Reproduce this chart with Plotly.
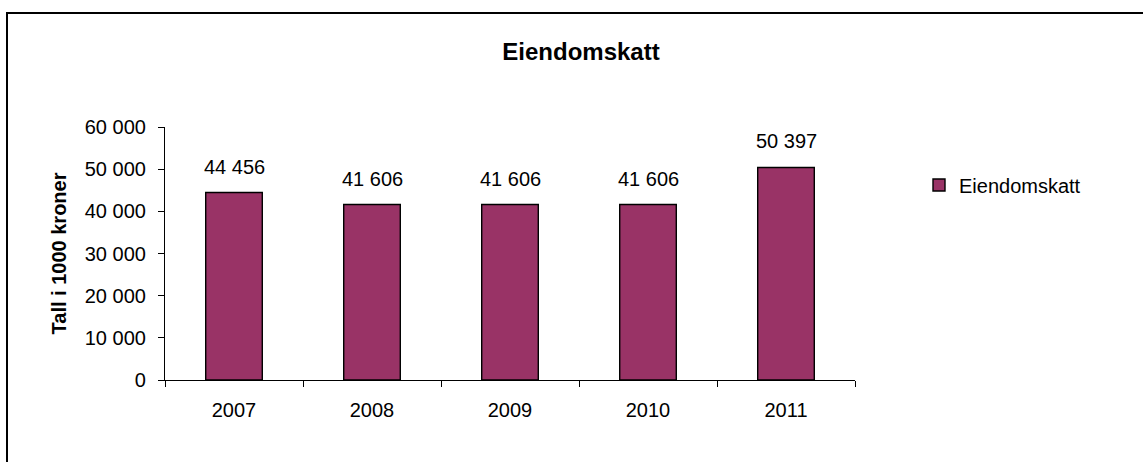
import plotly.graph_objects as go

years = ["2007", "2008", "2009", "2010", "2011"]
values = [44456, 41606, 41606, 41606, 50397]
series_name = "Eiendomskatt"
chart_title = "Eiendomskatt"
y_title = "Tall i 1000 kroner"

W, H = 1143, 462
L, R, T, B = 165, 288, 127, 82
pw, ph = W - L - R, H - T - B

def px_x(px):
    return (px - L) / pw

def px_y(py):
    return (H - B - py) / ph

font = "Liberation Sans, Arial, sans-serif"

fig = go.Figure()
fig.add_trace(go.Bar(
    x=years, y=values, name=series_name,
    marker=dict(color="#993366", line=dict(color="black", width=1.4)),
))

for i, v in enumerate(values):
    fig.add_annotation(x=i, y=v, xref="x", yref="y",
                       text=f"{v:,}".replace(",", " "), showarrow=False,
                       yanchor="bottom", yshift=13,
                       font=dict(size=20, family=font, color="black"))

fig.update_layout(
    width=W, height=H,
    margin=dict(l=L, r=R, t=T, b=B),
    paper_bgcolor="white", plot_bgcolor="white",
    separators=", ",
    font=dict(family=font, color="black", size=20),
    title=dict(text="<b>" + chart_title + "</b>", x=px_x(581), xref="paper", xanchor="center",
               y=1 - 52 / H, yanchor="middle", font=dict(size=24, family=font, color="black")),
    bargap=0.59,
    showlegend=True,
    legend=dict(x=px_x(919), y=px_y(185), xanchor="left", yanchor="middle",
                font=dict(size=20, family=font, color="black"), bgcolor="rgba(0,0,0,0)"),
    xaxis=dict(type="category", range=[-0.5, len(years) - 0.5], autorange=False,
               showline=True, linecolor="black", linewidth=1.2,
               ticks="outside", tickson="boundaries", ticklen=6, tickcolor="black",
               ticklabelstandoff=12, tickangle=0,
               showgrid=False, tickfont=dict(size=20, family=font, color="black")),
    yaxis=dict(range=[0, 60000], autorange=False, dtick=10000, tickformat=",d", showline=True,
               linecolor="black", linewidth=1.2, ticks="outside", ticklen=6, tickcolor="black",
               ticklabelstandoff=8,
               showgrid=False, zeroline=False,
               tickfont=dict(size=20, family=font, color="black"),
               title=dict(text="<b>" + y_title + "</b>", standoff=12,
                          font=dict(size=20, family=font, color="black"))),
    shapes=[dict(type="rect", xref="paper", yref="paper",
                 x0=px_x(7), y0=px_y(H + 20), x1=px_x(W + 20), y1=px_y(13),
                 line=dict(color="black", width=2), fillcolor="rgba(0,0,0,0)", layer="above")],
)

fig.write_html("out.html", config={"displayModeBar": False},
               post_script="document.body.style.margin='0';")
